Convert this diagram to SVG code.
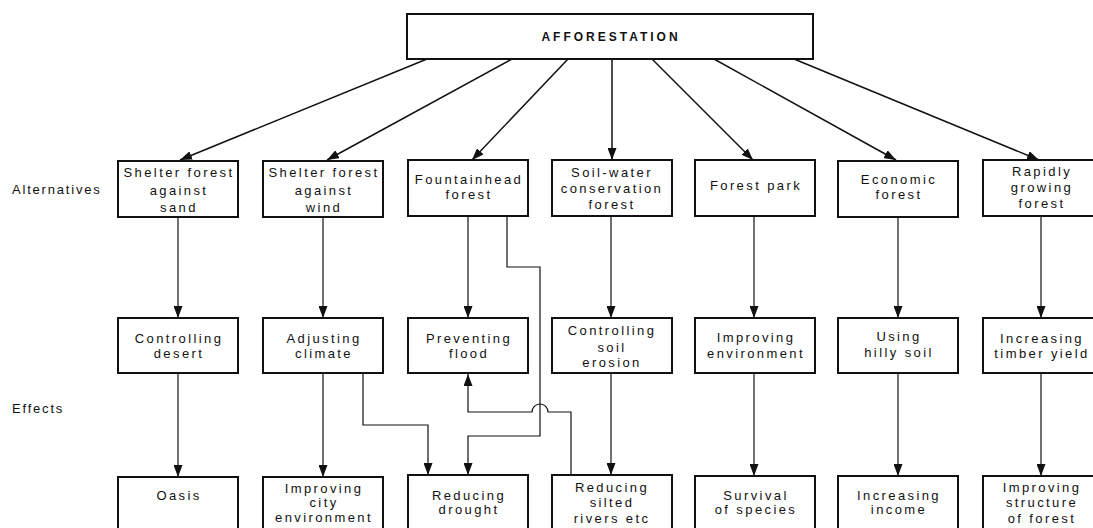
<svg xmlns="http://www.w3.org/2000/svg" width="1093" height="528" viewBox="0 0 1093 528">
<style>
.box{fill:#fff;stroke:#111;stroke-width:2}
.t{font-family:"Liberation Sans",Arial,sans-serif;font-size:13px;letter-spacing:2.4px;fill:#111;text-anchor:middle;dominant-baseline:central}
.lbl{font-family:"Liberation Sans",Arial,sans-serif;font-size:13px;letter-spacing:1.8px;fill:#111;dominant-baseline:central}
.top{font-family:"Liberation Sans",Arial,sans-serif;font-size:12px;letter-spacing:3px;font-weight:bold;fill:#111;text-anchor:middle;dominant-baseline:central}
.c{fill:none;stroke:#111;stroke-width:1.5}
.c2{fill:none;stroke:#111;stroke-width:1.2}
</style>
<defs>
<marker id="ah" viewBox="0 0 12 9" refX="12" refY="4.5" markerWidth="12" markerHeight="9" orient="auto" markerUnits="userSpaceOnUse">
<path d="M0,0 L12,4.5 L0,9 Z" fill="#111"/>
</marker>
</defs>
<rect width="1093" height="528" fill="#fff"/>
<text class="lbl" x="12" y="189">Alternatives</text>
<text class="lbl" x="12" y="408">Effects</text>
<g id="connectors">
<line class="c" x1="427" y1="59" x2="180" y2="160" marker-end="url(#ah)"/>
<line class="c" x1="512" y1="59" x2="327" y2="160" marker-end="url(#ah)"/>
<line class="c" x1="568" y1="59" x2="472" y2="160" marker-end="url(#ah)"/>
<line class="c" x1="612" y1="59" x2="612" y2="160" marker-end="url(#ah)"/>
<line class="c" x1="652" y1="59" x2="753" y2="160" marker-end="url(#ah)"/>
<line class="c" x1="714" y1="59" x2="896" y2="160" marker-end="url(#ah)"/>
<line class="c" x1="794" y1="59" x2="1039" y2="160" marker-end="url(#ah)"/>
<line class="c2" x1="178" y1="217" x2="178" y2="318" marker-end="url(#ah)"/>
<line class="c2" x1="323" y1="217" x2="323" y2="318" marker-end="url(#ah)"/>
<line class="c2" x1="468" y1="216" x2="468" y2="318" marker-end="url(#ah)"/>
<line class="c2" x1="611" y1="216" x2="611" y2="318" marker-end="url(#ah)"/>
<line class="c2" x1="754" y1="216" x2="754" y2="318" marker-end="url(#ah)"/>
<line class="c2" x1="898" y1="217" x2="898" y2="318" marker-end="url(#ah)"/>
<line class="c2" x1="1041" y1="217" x2="1041" y2="318" marker-end="url(#ah)"/>
<line class="c2" x1="178" y1="373" x2="178" y2="477" marker-end="url(#ah)"/>
<line class="c2" x1="323" y1="373" x2="323" y2="477" marker-end="url(#ah)"/>
<line class="c2" x1="611" y1="373" x2="611" y2="475" marker-end="url(#ah)"/>
<line class="c2" x1="754" y1="373" x2="754" y2="476" marker-end="url(#ah)"/>
<line class="c2" x1="898" y1="373" x2="898" y2="476" marker-end="url(#ah)"/>
<line class="c2" x1="1041" y1="373" x2="1041" y2="476" marker-end="url(#ah)"/>
<polyline class="c2" points="507,216 507,267 540,267 540,436 468,436 468,475" marker-end="url(#ah)"/>
<polyline class="c2" points="363,373 363,425 428,425 428,475" marker-end="url(#ah)"/>
<path class="c2" d="M571,475 L571,412 L548,412 A8,8 0 0 0 532,412 L468,412 L468,374" marker-end="url(#ah)"/>
</g>
<g id="afforestation"><rect class="box" x="407" y="14" width="406" height="45"/><text class="top" x="611" y="37">AFFORESTATION</text></g>
<g id="alt-sand"><rect class="box" x="118" y="161" width="120" height="56"/><text class="t" x="179" y="172">Shelter forest</text><text class="t" x="179" y="190">against</text><text class="t" x="179" y="207">sand</text></g>
<g id="alt-wind"><rect class="box" x="263" y="161" width="120" height="56"/><text class="t" x="324" y="172">Shelter forest</text><text class="t" x="324" y="190">against</text><text class="t" x="324" y="207">wind</text></g>
<g id="alt-fountainhead"><rect class="box" x="408" y="160" width="120" height="56"/><text class="t" x="469" y="179">Fountainhead</text><text class="t" x="469" y="194">forest</text></g>
<g id="alt-soilwater"><rect class="box" x="552" y="160" width="120" height="56"/><text class="t" x="612" y="172">Soil-water</text><text class="t" x="612" y="188">conservation</text><text class="t" x="612" y="204">forest</text></g>
<g id="alt-forestpark"><rect class="box" x="695" y="160" width="120" height="56"/><text class="t" x="756" y="185">Forest park</text></g>
<g id="alt-economic"><rect class="box" x="838" y="161" width="120" height="56"/><text class="t" x="899" y="179">Economic</text><text class="t" x="899" y="194">forest</text></g>
<g id="alt-rapidly"><rect class="box" x="983" y="160" width="122" height="56"/><text class="t" x="1042" y="171">Rapidly</text><text class="t" x="1042" y="187">growing</text><text class="t" x="1042" y="203">forest</text></g>
<g id="eff-desert"><rect class="box" x="118" y="318" width="120" height="55"/><text class="t" x="179" y="338">Controlling</text><text class="t" x="179" y="353">desert</text></g>
<g id="eff-climate"><rect class="box" x="263" y="318" width="120" height="55"/><text class="t" x="324" y="338">Adjusting</text><text class="t" x="324" y="353">climate</text></g>
<g id="eff-flood"><rect class="box" x="408" y="318" width="120" height="55"/><text class="t" x="469" y="338">Preventing</text><text class="t" x="469" y="353">flood</text></g>
<g id="eff-erosion"><rect class="box" x="552" y="318" width="120" height="55"/><text class="t" x="612" y="330">Controlling</text><text class="t" x="612" y="347">soil</text><text class="t" x="612" y="362">erosion</text></g>
<g id="eff-environment"><rect class="box" x="695" y="318" width="120" height="55"/><text class="t" x="756" y="337">Improving</text><text class="t" x="756" y="353">environment</text></g>
<g id="eff-hilly"><rect class="box" x="838" y="318" width="120" height="55"/><text class="t" x="899" y="336">Using</text><text class="t" x="899" y="352">hilly soil</text></g>
<g id="eff-timber"><rect class="box" x="983" y="318" width="122" height="55"/><text class="t" x="1042" y="338">Increasing</text><text class="t" x="1042" y="353">timber yield</text></g>
<g id="res-oasis"><rect class="box" x="118" y="477" width="120" height="60"/><text class="t" x="179" y="495">Oasis</text></g>
<g id="res-city"><rect class="box" x="263" y="477" width="120" height="60"/><text class="t" x="324" y="488">Improving</text><text class="t" x="324" y="502">city</text><text class="t" x="324" y="517">environment</text></g>
<g id="res-drought"><rect class="box" x="408" y="475" width="120" height="60"/><text class="t" x="469" y="495">Reducing</text><text class="t" x="469" y="509">drought</text></g>
<g id="res-silted"><rect class="box" x="552" y="475" width="120" height="60"/><text class="t" x="612" y="487">Reducing</text><text class="t" x="612" y="502">silted</text><text class="t" x="612" y="518">rivers etc</text></g>
<g id="res-species"><rect class="box" x="695" y="476" width="120" height="60"/><text class="t" x="756" y="495">Survival</text><text class="t" x="756" y="509">of species</text></g>
<g id="res-income"><rect class="box" x="838" y="476" width="120" height="60"/><text class="t" x="899" y="495">Increasing</text><text class="t" x="899" y="509">income</text></g>
<g id="res-structure"><rect class="box" x="983" y="476" width="122" height="60"/><text class="t" x="1042" y="487">Improving</text><text class="t" x="1042" y="502">structure</text><text class="t" x="1042" y="518">of forest</text></g>
</svg>
